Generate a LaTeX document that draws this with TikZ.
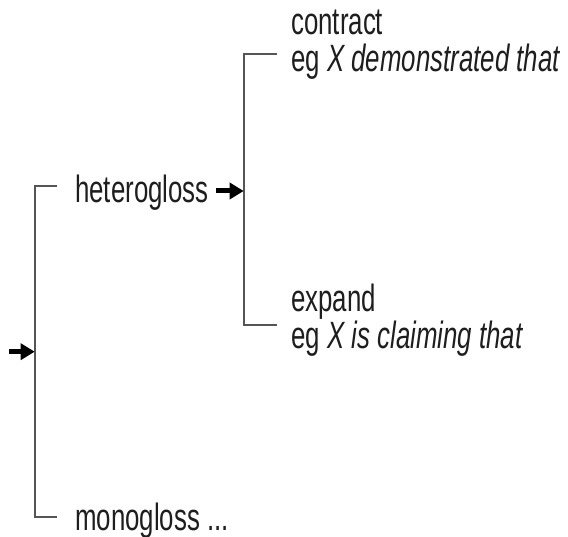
\documentclass[tikz,border=0pt]{standalone}
\usepackage{fontspec}
\setmainfont[FakeStretch=0.68]{Liberation Sans}
\usetikzlibrary{arrows.meta}
\definecolor{txt}{HTML}{1E1E1E}
\definecolor{brkc}{HTML}{555555}
\begin{document}
\begin{tikzpicture}[x=1pt,y=-1pt,
  lbl/.style={anchor=base west,inner sep=0pt,font=\fontsize{38}{38}\selectfont,text=txt},
  brk/.style={draw=brkc,line width=1.6pt,line join=miter},
  arr/.style={draw=black,line width=5pt,-{Triangle[length=14pt,width=16pt]}}]
\useasboundingbox (0,0) rectangle (568,537);
% texts
\node[lbl] (het) at (75,203) {heterogloss};
\node[lbl] (mono) at (75,530) {monogloss ...};
\node[lbl] (con) at (291,35) {contract};
\node[lbl] (conEg) at (291,72) {eg \textit{X demonstrated that}};
\node[lbl] (exp) at (291,312) {expand};
\node[lbl] (expEg) at (291,349) {eg \textit{X is claiming that}};
% left bracket
\coordinate (lt) at (57,186);
\coordinate (ltc) at (34.7,186);
\coordinate (lbc) at (34.7,517);
\coordinate (lb) at (57,517);
\coordinate (lm) at (34.7,351.7);
\coordinate (in) at (9,351.7);
\draw[brk] (lt) -- (ltc) -- (lbc) -- (lb);
\draw[arr] (in) -- (lm);
% right bracket
\coordinate (rt) at (277,54);
\coordinate (rtc) at (243.7,54);
\coordinate (rbc) at (243.7,325);
\coordinate (rb) at (277,325);
\coordinate (rm) at (243.7,191);
\coordinate (ha) at (216,191);
\draw[brk] (rt) -- (rtc) -- (rbc) -- (rb);
\draw[arr] (ha) -- (rm);
\end{tikzpicture}
\end{document}
